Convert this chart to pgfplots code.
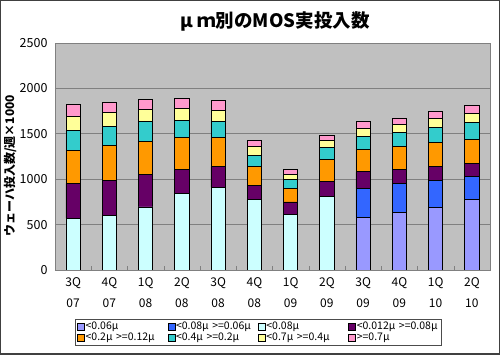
\documentclass[border=0pt]{standalone}
\usepackage{pgfplots}
\pgfplotsset{compat=1.18}
\usepackage{pgfplotstable}
\usepackage{fontspec}
\setmainfont{Noto Sans CJK JP}
\definecolor{plotbg}{HTML}{C0C0C0}
\definecolor{gridc}{HTML}{808080}
\definecolor{cLav}{HTML}{9999FF}
\definecolor{cBlue}{HTML}{3366FF}
\definecolor{cCyan}{HTML}{CCFFFF}
\definecolor{cPurp}{HTML}{660066}
\definecolor{cOran}{HTML}{FF9900}
\definecolor{cTeal}{HTML}{33CCCC}
\definecolor{cYell}{HTML}{FFFF99}
\definecolor{cPink}{HTML}{FF99CC}
\pgfplotstableread{
x lav blue cyan purple orange teal yellow pink
0 0 0 569 381 368 216 162 128
1 0 0 598 385 386 209 154 118
2 0 0 694 363 363 213 136 110
3 0 0 844 268 349 190 129 110
4 0 0 911 227 323 179 122 110
5 0 0 778 155 209 124 92 73
6 0 0 609 140 154 91 56 59
7 0 0 807 165 247 132 73 55
8 580 315 0 187 250 143 85 73
9 635 319 0 155 256 147 92 70
10 690 301 0 154 261 161 99 81
11 778 257 0 143 264 180 103 88
}\data
\begin{document}
\begin{tikzpicture}
\path[use as bounding box] (-55pt,-85pt) rectangle (445pt,270pt);
\fill[white] (-55pt,-85pt) rectangle (445pt,270pt);
\draw[line width=1.5pt, black!75] (-54.25pt,-84.25pt) rectangle (444.25pt,269.25pt);
\begin{axis}[
  at={(0pt,0pt)}, anchor=south west,
  scale only axis, width=435pt, height=227pt,
  ybar stacked, bar width=14.3pt,
  xmin=-0.5, xmax=11.5, ymin=0, ymax=2500,
  axis background/.style={fill=plotbg},
  axis line style={gridc},
  ytick={0,500,...,2500},
  ymajorgrids, grid style={gridc, line width=0.8pt},
  xtick={0,...,11},
  xticklabels={3Q\\07,4Q\\07,1Q\\08,2Q\\08,3Q\\08,4Q\\08,1Q\\09,2Q\\09,3Q\\09,4Q\\09,1Q\\10,2Q\\10},
  xticklabel style={align=center, font=\fontsize{12}{21}\selectfont, yshift=-4pt},
  yticklabel style={font=\fontsize{12.5}{14}\selectfont, xshift=-4pt},
  /pgf/number format/assume math mode=true,
  /pgf/number format/1000 sep={},
  scaled y ticks=false,
  major tick length=0pt,
  minor xtick={0.5,1.5,...,10.5},
  minor tick length=4pt,
  tick style={gridc},
  tick pos=bottom,
  ylabel={ウェーハ投入数/週×1000},
  ylabel style={at={(rel axis cs:0,0.46)}, anchor=center, yshift=45pt, font=\bfseries\fontsize{12}{14}\selectfont},
  title={μ ｍ別のMOS実投入数},
  title style={at={(rel axis cs:0.506,1)}, anchor=center, yshift=16pt, font=\bfseries\fontsize{18.5}{20}\selectfont},
  legend columns=4,
  legend style={at={(rel axis cs:0.046,0)}, anchor=north west, yshift=-49pt,
    draw=black!70, fill=white, font=\fontsize{10.5}{12}\selectfont,
    inner sep=2pt, row sep=0pt,
    nodes={text width=81pt, align=left, inner sep=1pt}},
  legend image code/.code={\draw[#1,draw=black,line width=0.4pt] (0pt,-3.5pt) rectangle (7pt,3.5pt);},
  every axis plot/.append style={draw=black, line width=0.6pt},
]
\addplot[fill=cLav] table[x=x,y=lav]{\data};
\addplot[fill=cBlue] table[x=x,y=blue]{\data};
\addplot[fill=cCyan] table[x=x,y=cyan]{\data};
\addplot[fill=cPurp] table[x=x,y=purple]{\data};
\addplot[fill=cOran] table[x=x,y=orange]{\data};
\addplot[fill=cTeal] table[x=x,y=teal]{\data};
\addplot[fill=cYell] table[x=x,y=yellow]{\data};
\addplot[fill=cPink] table[x=x,y=pink]{\data};
\legend{\mbox{<0.06μ}, \mbox{<0.08μ >=0.06μ}, \mbox{<0.08μ}, \mbox{<0.012μ >=0.08μ}, \mbox{<0.2μ >=0.12μ}, \mbox{<0.4μ >=0.2μ}, \mbox{<0.7μ >=0.4μ}, \mbox{>=0.7μ}}
\end{axis}
\end{tikzpicture}
\end{document}
